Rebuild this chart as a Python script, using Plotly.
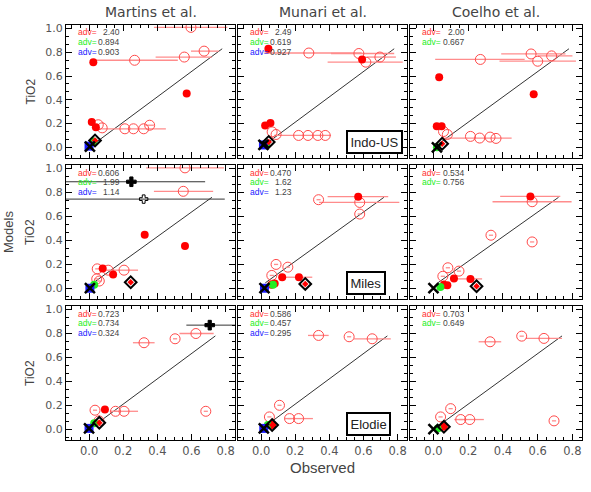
import plotly.graph_objects as go

# ---------------- data (row-major panels: r0c0, r0c1, r0c2, r1c0 ...) ----------------
COL_TITLES = ["Martins et al.", "Munari et al.", "Coelho et al."]
LIBRARIES = ["Indo-US", "Miles", "Elodie"]
X_TICKS = [0.0, 0.2, 0.4, 0.6, 0.8]
Y_TICKS = [0.0, 0.2, 0.4, 0.6, 0.8, 1.0]

# open circles: observed TiO2 vs model, with horizontal error extents (lo, hi)
OPEN_X = [
    [0.597, 0.674, 0.558, 0.267, 0.355, 0.32, 0.26, 0.21, 0.054, 0.077],
    [0.28, 0.573, 0.696, 0.614, 0.065, 0.088, 0.22, 0.275, 0.333, 0.376],
    [0.562, 0.68, 0.27, 0.60, 0.058, 0.08, 0.213, 0.266, 0.326, 0.36],
    [0.562, 0.552, 0.205, 0.048, 0.112, 0.045, 0.06],
    [0.337, 0.578, 0.578, 0.088, 0.157, 0.063],
    [0.568, 0.331, 0.568, 0.083, 0.147, 0.054],
    [0.626, 0.504, 0.322, 0.035, 0.155, 0.205, 0.684, 0.058],
    [0.337, 0.516, 0.651, 0.108, 0.049, 0.167, 0.22, 0.706],
    [0.326, 0.508, 0.636, 0.099, 0.041, 0.157, 0.209, 0.694],
]
OPEN_Y = [
    [1.01, 0.81, 0.76, 0.733, 0.186, 0.156, 0.156, 0.156, 0.19, 0.164],
    [0.794, 0.79, 0.76, 0.717, 0.13, 0.108, 0.10, 0.10, 0.10, 0.10],
    [0.786, 0.77, 0.74, 0.725, 0.133, 0.108, 0.092, 0.078, 0.086, 0.075],
    [1.006, 0.81, 0.151, 0.162, 0.151, 0.078, 0.06],
    [0.74, 0.717, 0.62, 0.199, 0.176, 0.107],
    [0.723, 0.443, 0.387, 0.171, 0.143, 0.10],
    [0.80, 0.756, 0.723, 0.159, 0.15, 0.15, 0.15, 0.07],
    [0.784, 0.773, 0.756, 0.20, 0.103, 0.089, 0.089, 0.089],
    [0.731, 0.778, 0.759, 0.172, 0.103, 0.081, 0.081, 0.07],
]
OPEN_LO = [
    [0.38, 0.597, 0.39, 0.01, 0.33, 0.32, 0.05, 0.21, 0.054, 0.077],
    [0.02, 0.41, 0.62, 0.39, 0.065, 0.088, 0.22, 0.077, 0.333, 0.376],
    [0.39, 0.60, 0.01, 0.38, 0.058, 0.08, 0.213, 0.064, 0.326, 0.36],
    [0.335, 0.38, 0.12, 0.036, 0.10, 0.033, 0.048],
    [0.325, 0.34, 0.566, 0.076, 0.145, 0.051],
    [0.34, 0.319, 0.556, 0.071, 0.135, 0.042],
    [0.53, 0.492, 0.257, 0.023, 0.143, 0.122, 0.672, 0.046],
    [0.275, 0.504, 0.545, 0.096, 0.037, 0.155, 0.137, 0.694],
    [0.26, 0.496, 0.53, 0.087, 0.029, 0.145, 0.12, 0.682],
]
OPEN_HI = [
    [0.81, 0.76, 0.72, 0.52, 0.38, 0.32, 0.45, 0.21, 0.054, 0.077],
    [0.59, 0.78, 0.79, 0.83, 0.065, 0.088, 0.22, 0.41, 0.333, 0.376],
    [0.76, 0.80, 0.525, 0.82, 0.058, 0.08, 0.213, 0.45, 0.326, 0.36],
    [0.79, 0.727, 0.287, 0.06, 0.124, 0.057, 0.072],
    [0.349, 0.81, 0.59, 0.10, 0.169, 0.075],
    [0.795, 0.343, 0.58, 0.095, 0.159, 0.066],
    [0.73, 0.516, 0.384, 0.047, 0.167, 0.287, 0.696, 0.07],
    [0.396, 0.528, 0.76, 0.12, 0.061, 0.179, 0.304, 0.718],
    [0.39, 0.52, 0.74, 0.111, 0.053, 0.169, 0.29, 0.706],
]

# filled red dots
FILLED_X = [
    [0.025, 0.572, 0.016, 0.04],
    [0.043, 0.592, 0.024, 0.055],
    [0.033, 0.577, 0.019, 0.047],
    [0.326, 0.562, 0.08, 0.141],
    [0.569, 0.124, 0.222, 0.08, 0.06],
    [0.558, 0.118, 0.213, 0.06, 0.08],
    [0.093],
    [0.065],
    [0.06],
]
FILLED_Y = [
    [0.717, 0.453, 0.214, 0.17],
    [0.83, 0.74, 0.183, 0.205],
    [0.589, 0.447, 0.178, 0.178],
    [0.448, 0.353, 0.165, 0.115],
    [0.765, 0.092, 0.092, 0.04, 0.03],
    [0.767, 0.081, 0.078, 0.03, 0.025],
    [0.164],
    [0.035],
    [0.02],
]
FILLED_LO = [
    [0.025, 0.572, 0.016, 0.04],
    [0.043, 0.592, 0.024, 0.055],
    [0.033, 0.577, 0.019, 0.047],
    [0.326, 0.562, 0.08, 0.141],
    [0.39, 0.124, 0.12, 0.08, 0.06],
    [0.384, 0.118, 0.12, 0.06, 0.08],
    [0.093],
    [0.065],
    [0.06],
]
FILLED_HI = [
    [0.025, 0.572, 0.016, 0.04],
    [0.043, 0.592, 0.024, 0.055],
    [0.033, 0.577, 0.019, 0.047],
    [0.326, 0.562, 0.08, 0.141],
    [0.745, 0.124, 0.30, 0.08, 0.06],
    [0.73, 0.118, 0.28, 0.06, 0.08],
    [0.093],
    [0.065],
    [0.06],
]

# special markers near origin (None = absent)
GREEN_X = [0.025, 0.03, 0.02, 0.03, 0.07, 0.04, 0.03, 0.04, 0.025]
GREEN_Y = [0.05, 0.03, 0.0, 0.03, 0.03, 0.01, 0.05, 0.035, 0.007]
BLUE_X = [0.0, 0.014, None, 0.005, 0.02, None, 0.0, 0.016, None]
BLUE_Y = [0.01, 0.02, None, 0.0, 0.0, None, 0.007, 0.007, None]
CROSS_X = [0.005, 0.014, 0.02, 0.005, 0.02, 0.0, 0.0, 0.016, 0.0]
CROSS_Y = [0.005, 0.02, 0.0, 0.0, 0.0, 0.0, 0.007, 0.007, 0.0]
DIAMOND_X = [0.035, 0.045, 0.05, 0.244, 0.259, 0.248, 0.06, 0.065, 0.06]
DIAMOND_Y = [0.058, 0.045, 0.03, 0.05, 0.036, 0.017, 0.054, 0.035, 0.02]

# black plus symbols with wide error bars
PLUS_PANEL = [3, 3, 6]
PLUS_X = [0.248, 0.32, 0.707]
PLUS_Y = [0.89, 0.745, 0.87]
PLUS_LO = [-0.25, -0.25, 0.57]
PLUS_HI = [0.68, 0.795, 0.95]
PLUS_FILLED = [True, False, True]

# adv values
ADV_RED = ["2.40", "2.49", "2.00", "0.606", "0.470", "0.534", "0.723", "0.586", "0.703"]
ADV_GREEN = ["0.894", "0.619", "0.667", "1.99", "1.62", "0.756", "0.734", "0.457", "0.649"]
ADV_BLUE = ["0.903", "0.927", None, "1.14", "1.23", None, "0.324", "0.295", None]

# reference line per row
LINE_X = [[0.03, 0.78], [0.025, 0.72], [0.03, 0.74]]
LINE_Y = [[0.03, 0.83], [0.045, 0.76], [0.03, 0.78]]

# ---------------- layout constants ----------------
W, H = 591, 492
COL_PX = [(66, 235), (238, 407), (410, 582)]
ROW_PX = [(25, 158), (165, 299), (306, 440)]
XR = [-0.135, 0.855]
YR = [-0.09, 1.03]
FONT = "Liberation Sans"
TFONT = "DejaVu Sans"
TXT = "#3a3a3a"
RED = "#ff0000"
ORED = "#ff4a4a"
EBAR = "#ff8c8c"
GREEN = "#22ee22"
BLUE = "#1a1aff"

fig = go.Figure()
layout = dict(
    width=W, height=H, margin=dict(l=0, r=0, t=0, b=0, autoexpand=False),
    paper_bgcolor="white", plot_bgcolor="white", showlegend=False,
    font=dict(family=FONT, color=TXT),
)
annotations = []

for k in range(9):
    r, c = divmod(k, 3)
    xa, ya = f"x{k+1}", f"y{k+1}"
    xs = "" if k == 0 else str(k + 1)
    l, rr = COL_PX[c]
    t, b = ROW_PX[r]
    layout[f"xaxis{xs}"] = dict(
        domain=[l / W, rr / W], range=XR, anchor=ya,
        tickvals=X_TICKS, ticktext=[f"{v:.1f}" for v in X_TICKS],
        showticklabels=(r == 2), ticks="inside", ticklen=6, tickcolor="black",
        mirror="allticks", showline=True, linecolor="black", linewidth=1,
        showgrid=False, zeroline=False,
        tickfont=dict(size=11.5, color="#555", family=TFONT),
        minor=dict(dtick=0.05, tick0=0, ticks="inside", ticklen=3, tickcolor="black", showgrid=False),
    )
    layout[f"yaxis{xs}"] = dict(
        domain=[1 - b / H, 1 - t / H], range=YR, anchor=xa,
        tickvals=Y_TICKS, ticktext=[f"{v:.1f}" for v in Y_TICKS],
        showticklabels=(c == 0), ticks="inside", ticklen=6, tickcolor="black",
        mirror="allticks", showline=True, linecolor="black", linewidth=1,
        showgrid=False, zeroline=False,
        tickfont=dict(size=11, color="#555", family=TFONT),
        minor=dict(dtick=0.2 / 3, tick0=0, ticks="inside", ticklen=3, tickcolor="black", showgrid=False),
    )

    # reference line
    fig.add_trace(go.Scatter(x=LINE_X[r], y=LINE_Y[r], mode="lines",
                             line=dict(color="#333", width=1), xaxis=xa, yaxis=ya, hoverinfo="skip"))

    # open circles
    ox, oy = OPEN_X[k], OPEN_Y[k]
    fig.add_trace(go.Scatter(
        x=ox, y=oy, mode="markers", xaxis=xa, yaxis=ya,
        marker=dict(symbol="circle-open", size=10, color=ORED, line=dict(width=1, color=ORED)),
        error_x=dict(type="data", symmetric=False,
                     array=[h - x for h, x in zip(OPEN_HI[k], ox)],
                     arrayminus=[x - lo for lo, x in zip(OPEN_LO[k], ox)],
                     color=EBAR, thickness=1.3, width=0),
    ))
    # filled dots
    fx, fy = FILLED_X[k], FILLED_Y[k]
    fig.add_trace(go.Scatter(
        x=fx, y=fy, mode="markers", xaxis=xa, yaxis=ya,
        marker=dict(symbol="circle", size=8, color=RED),
        error_x=dict(type="data", symmetric=False,
                     array=[h - x for h, x in zip(FILLED_HI[k], fx)],
                     arrayminus=[x - lo for lo, x in zip(FILLED_LO[k], fx)],
                     color=EBAR, thickness=1.3, width=0),
    ))
    # green
    fig.add_trace(go.Scatter(x=[GREEN_X[k]], y=[GREEN_Y[k]], mode="markers", xaxis=xa, yaxis=ya,
                             marker=dict(symbol="circle", size=8, color=GREEN)))
    # blue
    if BLUE_X[k] is not None:
        fig.add_trace(go.Scatter(x=[BLUE_X[k]], y=[BLUE_Y[k]], mode="markers", xaxis=xa, yaxis=ya,
                                 marker=dict(symbol="square", size=9, color=BLUE)))
    # diamond with red core
    fig.add_trace(go.Scatter(x=[DIAMOND_X[k]], y=[DIAMOND_Y[k]], mode="markers", xaxis=xa, yaxis=ya,
                             marker=dict(symbol="diamond", size=5, color=RED)))
    fig.add_trace(go.Scatter(x=[DIAMOND_X[k]], y=[DIAMOND_Y[k]], mode="markers", xaxis=xa, yaxis=ya,
                             marker=dict(symbol="diamond-open", size=9, color="black",
                                         line=dict(width=2, color="black"))))
    # cross
    fig.add_trace(go.Scatter(x=[CROSS_X[k]], y=[CROSS_Y[k]], mode="markers", xaxis=xa, yaxis=ya,
                             marker=dict(symbol="x-thin-open", size=10, color="black",
                                         line=dict(width=2.5, color="black"))))

    # adv labels
    vals = [(ADV_RED[k], "#ff3030"), (ADV_GREEN[k], GREEN), (ADV_BLUE[k], BLUE)]
    for i, (v, col) in enumerate(vals):
        if v is None:
            continue
        yy = 0.967 - i * 0.081
        annotations.append(dict(x=-0.07, y=yy, xref=xa, yref=ya, text="adv=", showarrow=False,
                                borderpad=0, xanchor="left", yanchor="middle",
                                font=dict(size=8.5, color=col, family=FONT)))
        annotations.append(dict(x=0.185, y=yy, xref=xa, yref=ya, text=v, showarrow=False,
                                borderpad=0, xanchor="right", yanchor="middle",
                                font=dict(size=8.5, color="#444", family=FONT)))

    if c == 1:
        annotations.append(dict(x=0.5, y=-0.058, xref=xa, yref=ya, text=LIBRARIES[r], showarrow=False,
                                xanchor="left", yanchor="bottom", bgcolor="white", bordercolor="black",
                                borderwidth=2, borderpad=2.5, font=dict(size=13, color="#222", family=FONT)))

# black plus symbols
for j in range(len(PLUS_X)):
    k = PLUS_PANEL[j]
    xa, ya = f"x{k+1}", f"y{k+1}"
    fig.add_trace(go.Scatter(
        x=[PLUS_X[j]], y=[PLUS_Y[j]], mode="markers", xaxis=xa, yaxis=ya,
        marker=dict(symbol="cross" if PLUS_FILLED[j] else "cross-open",
                    size=8 if PLUS_FILLED[j] else 7, color="black",
                    line=dict(width=1, color="black")),
        error_x=dict(type="data", symmetric=False, array=[PLUS_HI[j] - PLUS_X[j]],
                     arrayminus=[PLUS_X[j] - PLUS_LO[j]], color="#333", thickness=1, width=0),
    ))

# column titles
for c in range(3):
    l, rr = COL_PX[c]
    annotations.append(dict(x=(l + rr) / 2 / W, y=1 - 12 / H, xref="paper", yref="paper",
                            text=COL_TITLES[c], showarrow=False, xanchor="center", yanchor="middle",
                            font=dict(size=14, color="#444", family=TFONT)))
# row y titles
for r in range(3):
    t, b = ROW_PX[r]
    annotations.append(dict(x=30 / W, y=1 - (t + b) / 2 / H, xref="paper", yref="paper",
                            text="TiO2", showarrow=False, textangle=-90, xanchor="center", yanchor="middle",
                            font=dict(size=12, color="#444", family=FONT)))
annotations.append(dict(x=8 / W, y=1 - 232 / H, xref="paper", yref="paper", text="Models",
                        showarrow=False, textangle=-90, xanchor="center", yanchor="middle",
                        font=dict(size=13, color="#444", family=FONT)))
annotations.append(dict(x=(238 + 407) / 2 / W, y=1 - 467 / H, xref="paper", yref="paper", text="Observed",
                        showarrow=False, xanchor="center", yanchor="middle",
                        font=dict(size=15, color="#444", family=FONT)))

layout["annotations"] = annotations
fig.update_layout(**layout)
fig.write_html("out.html", config={"displayModeBar": False},
               post_script="document.body.style.margin='0px';document.body.style.padding='0px';")
